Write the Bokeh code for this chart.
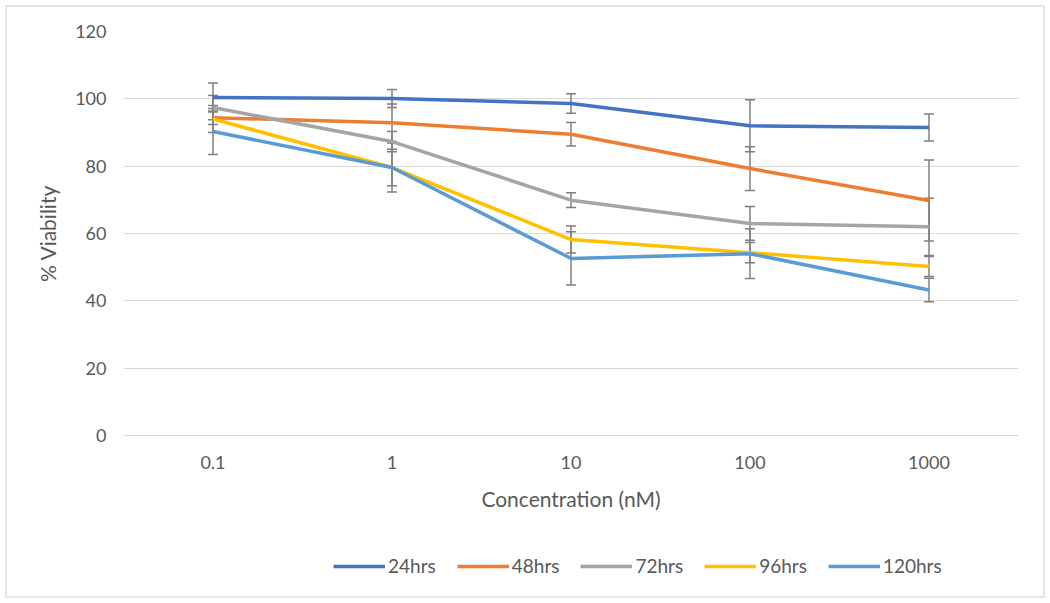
from bokeh.plotting import figure
from bokeh.layouts import column
from bokeh.models import ColumnDataSource, Whisker, TeeHead, Legend, LegendItem, Range1d, FactorRange
from bokeh.embed import file_html
from bokeh.resources import INLINE

concentrations = ["0.1", "1", "10", "100", "1000"]
series_names = ["24hrs", "48hrs", "72hrs", "96hrs", "120hrs"]
v24 = [100.4, 100.1, 98.6, 92.0, 91.5]
v48 = [94.4, 92.9, 89.5, 79.3, 69.8]
v72 = [97.4, 87.3, 69.9, 63.0, 62.0]
v96 = [94.0, 79.6, 58.2, 54.3, 50.2]
v120 = [90.3, 79.6, 52.6, 54.0, 43.2]
e24 = [4.3, 2.7, 2.9, 7.7, 4.0]
e48 = [2.0, 5.6, 3.5, 6.5, 12.0]
e72 = [3.6, 3.0, 2.2, 5.0, 8.5]
e96 = [4.0, 5.4, 4.0, 3.0, 3.0]
e120 = [6.8, 7.3, 7.9, 7.4, 3.5]
colors = ["#4472C4", "#ED7D31", "#A5A5A5", "#FFC000", "#5B9BD5"]

values = [v24, v48, v72, v96, v120]
errors = [e24, e48, e72, e96, e120]

FONT = "Lato"
TXT = "#595959"

p = figure(x_range=FactorRange(*concentrations, range_padding=0), y_range=Range1d(0, 120),
           width=1036, height=520,
           min_border_left=116, min_border_right=25, min_border_top=24, min_border_bottom=92,
           output_backend="svg", toolbar_location=None)
p.outline_line_color = None
p.xgrid.grid_line_color = None
p.ygrid.grid_line_color = "#D9D9D9"
p.ygrid.grid_line_width = 1
p.yaxis.ticker = [0, 20, 40, 60, 80, 100, 120]
p.yaxis.axis_line_color = None
p.xaxis.axis_line_color = "#D9D9D9"
for ax in (p.xaxis, p.yaxis):
    ax.major_tick_line_color = None
    ax.minor_tick_line_color = None
    ax.major_label_text_font = FONT
    ax.major_label_text_font_size = "18px"
    ax.major_label_text_color = TXT
    ax.axis_label_text_font = FONT
    ax.axis_label_text_font_size = "21px"
    ax.axis_label_text_color = TXT
    ax.axis_label_text_font_style = "normal"
p.yaxis.axis_label = "% Viability"
p.yaxis.major_label_standoff = 11
p.yaxis.axis_label_standoff = 12
p.xaxis.axis_label = "Concentration (nM)"
p.xaxis.major_label_standoff = 14
p.xaxis.axis_label_standoff = 14

for name, vals, errs, col in zip(series_names, values, errors, colors):
    src = ColumnDataSource(dict(
        x=concentrations, y=vals,
        lo=[v - e for v, e in zip(vals, errs)],
        hi=[v + e for v, e in zip(vals, errs)]))
    p.line("x", "y", source=src, line_color=col, line_width=3.5)
    w = Whisker(base="x", lower="lo", upper="hi", source=src,
                line_color="#7F7F7F", line_width=1.5,
                upper_head=TeeHead(size=10, line_color="#7F7F7F", line_width=1.5),
                lower_head=TeeHead(size=10, line_color="#7F7F7F", line_width=1.5))
    p.add_layout(w)

# legend strip below the chart (its key lines sit outside the visible range)
leg = figure(width=1036, height=69, x_axis_type=None, y_axis_type=None,
             x_range=Range1d(0, 1), y_range=Range1d(0, 1),
             min_border=0, output_backend="svg", toolbar_location=None)
leg.outline_line_color = None
leg.xgrid.grid_line_color = None
leg.ygrid.grid_line_color = None
items = []
for name, col in zip(series_names, colors):
    r = leg.line(x=[-10, -9], y=[-10, -10], line_color=col, line_width=3.5)
    items.append(LegendItem(label=name, renderers=[r]))
legend = Legend(items=items, orientation="horizontal", location=(210, 19),
                glyph_width=52, glyph_height=20, label_standoff=3, spacing=21,
                label_text_font=FONT, label_text_font_size="19px", label_text_color=TXT,
                border_line_color=None, background_fill_alpha=0, margin=0, padding=4)
leg.add_layout(legend, "center")

layout = column(p, leg, spacing=0, styles={"margin": "5px", "border": "2px solid #E6E6E6"})

open("out.html", "w").write(file_html(layout, INLINE))
